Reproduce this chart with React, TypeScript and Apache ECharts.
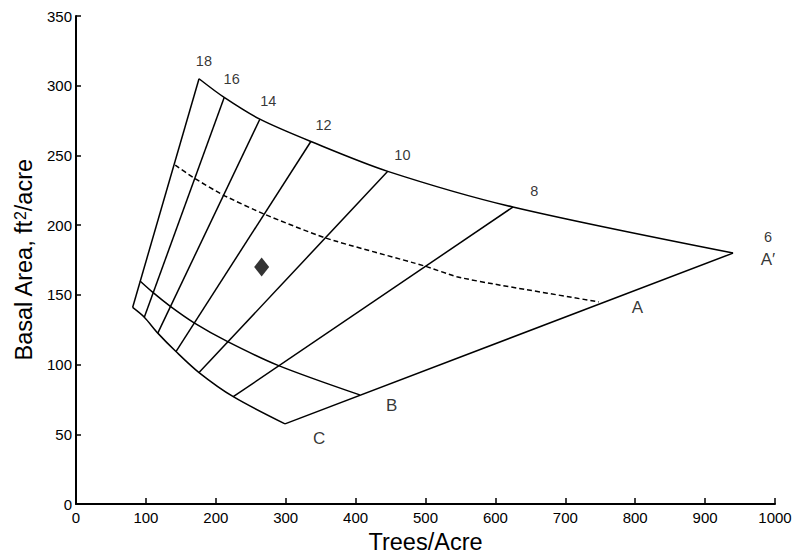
import React, { useEffect, useRef } from "react";
import * as echarts from "echarts";

const xTicks = [0, 100, 200, 300, 400, 500, 600, 700, 800, 900, 1000];
const yTicks = [0, 50, 100, 150, 200, 250, 300, 350];

// Upper boundary (A' line) through the diameter-line tops
const topCurve = [[176, 305], [212, 291.6], [263, 276], [336, 260], [446, 238.6], [625, 213], [940, 180]];
// Lower boundary (C line)
const bottomCurve = [[81, 141], [97.7, 134], [117, 122.6], [143, 109.4], [176, 94.3], [225, 77], [299, 57.5]];
// B line
const bCurve = [[91.6, 160], [110, 151.8], [134.5, 142], [169, 130], [217, 116.5], [289, 99.5], [406, 78.3]];
// Dashed A line
const aCurve = [[142, 243], [169, 233.8], [210.7, 221.6], [269, 208], [357.7, 190.7], [499, 170.7], [545, 163], [607, 157], [748, 145]];

// Diameter lines (inches)
const diamNames = ["18", "16", "14", "12", "10", "8", "6"];
const diamLines = [
  [[81, 141], [176, 305]],
  [[97.7, 134], [212, 291.6]],
  [[117, 122.6], [263, 276]],
  [[143, 109.4], [336, 260]],
  [[176, 94.3], [446, 238.6]],
  [[225, 77], [625, 213]],
  [[299, 57.5], [940, 180]],
];

const diamLabelPos = [[183, 318], [222.7, 304.5], [275, 289], [354, 271.5], [467, 250.3], [655.6, 224.4], [990, 191.4]];
const letterLabels = ["A\u2032", "A", "B", "C"];
const letterLabelPos = [[990, 175.3], [803, 140.7], [451.6, 70.5], [348, 47]];

const plotPoint = [[265.6, 170]];

export default function App() {
  const ref = useRef<HTMLDivElement>(null);
  useEffect(() => {
    if (!ref.current) return;
    const chart = echarts.init(ref.current, null, { renderer: "svg" });
    const lineStyle = { color: "#000", width: 1.5 };
    const font = "Liberation Sans, Arial, sans-serif";
    const series: any[] = [];
    const addLine = (data: number[][], smooth: boolean | number, dashed = false) => {
      series.push({
        type: "line",
        data,
        smooth,
        symbol: "none",
        silent: true,
        lineStyle: dashed ? { ...lineStyle, type: [5, 3] } : lineStyle,
      });
    };
    addLine(topCurve, 0.3);
    addLine(bottomCurve, 0.3);
    addLine(bCurve, 0.3);
    addLine(aCurve, 0.2, true);
    diamLines.forEach((d) => addLine(d, false));
    series.push({
      type: "scatter",
      silent: true,
      symbolSize: 0,
      data: diamLabelPos.map((p, i) => ({ value: p, name: diamNames[i] })),
      label: { show: true, position: "inside", formatter: "{b}", color: "#000", fontSize: 14.5, fontFamily: font },
    });
    series.push({
      type: "scatter",
      silent: true,
      symbolSize: 0,
      data: letterLabelPos.map((p, i) => ({ value: p, name: letterLabels[i] })),
      label: { show: true, position: "inside", formatter: "{b}", color: "#000", fontSize: 17, fontFamily: font },
    });
    series.push({
      type: "scatter",
      silent: true,
      symbol: "diamond",
      symbolSize: [15, 19],
      itemStyle: { color: "#000" },
      data: plotPoint,
    });

    chart.setOption({
      animation: false,
      grid: { left: 76, right: 35, top: 16, bottom: 48, containLabel: false },
      xAxis: {
        type: "value",
        min: xTicks[0],
        max: xTicks[xTicks.length - 1],
        interval: 100,
        name: "Trees/Acre",
        nameLocation: "middle",
        nameGap: 21,
        nameTextStyle: { fontSize: 23.5, color: "#000", fontFamily: font },
        axisLine: { show: true, lineStyle: { color: "#000", width: 2 } },
        axisTick: { show: true, inside: true, length: 6, lineStyle: { color: "#000", width: 1.5 } },
        axisLabel: { fontSize: 15, color: "#000", fontFamily: font, margin: 6, formatter: (v: number) => String(v) },
        splitLine: { show: false },
      },
      yAxis: {
        type: "value",
        min: yTicks[0],
        max: yTicks[yTicks.length - 1],
        interval: 50,
        name: "Basal Area, ft{sup|2}/acre",
        nameLocation: "middle",
        nameGap: 38,
        nameTextStyle: {
          fontSize: 23.5,
          color: "#000",
          fontFamily: font,
          rich: { sup: { fontSize: 16, verticalAlign: "top", lineHeight: 14, color: "#000", fontFamily: font } },
        },
        axisLine: { show: true, lineStyle: { color: "#000", width: 2 } },
        axisTick: { show: true, inside: true, length: 5, lineStyle: { color: "#000", width: 1.5 } },
        axisLabel: { fontSize: 15, color: "#000", fontFamily: font, margin: 4, formatter: (v: number) => String(v) },
        splitLine: { show: false },
      },
      series,
    });
    return () => chart.dispose();
  }, []);
  return <div ref={ref} style={{ width: 810, height: 559, position: "absolute", left: 0, top: 0, background: "#fff" }} />;
}
